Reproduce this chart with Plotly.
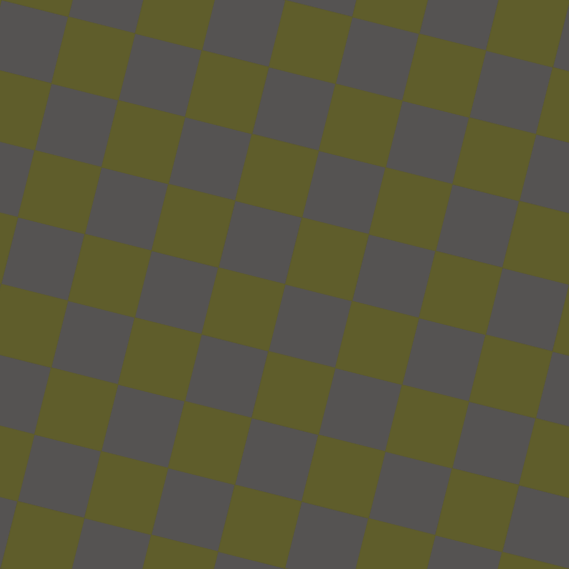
import math
import plotly.graph_objects as go

# Pattern parameters
cell_side = 68.9           # px
tilt_deg = 14.1            # rotation of the grid
origin = [68.3, 16.7]      # a lattice corner (top-left of an olive cell)
colors = ["#5f5d2b", "#555352"]   # olive, gray
canvas = 569

th = math.radians(tilt_deg)
ax_u = (cell_side * math.cos(th), cell_side * math.sin(th))
ax_v = (-cell_side * math.sin(th), cell_side * math.cos(th))

xs = {0: [], 1: []}
ys = {0: [], 1: []}
for i in range(-6, 14):
    for j in range(-6, 14):
        p0 = (origin[0] + i * ax_u[0] + j * ax_v[0], origin[1] + i * ax_u[1] + j * ax_v[1])
        pts = [p0,
               (p0[0] + ax_u[0], p0[1] + ax_u[1]),
               (p0[0] + ax_u[0] + ax_v[0], p0[1] + ax_u[1] + ax_v[1]),
               (p0[0] + ax_v[0], p0[1] + ax_v[1])]
        cx = sum(p[0] for p in pts) / 4
        cy = sum(p[1] for p in pts) / 4
        if cx < -80 or cx > canvas + 80 or cy < -80 or cy > canvas + 80:
            continue
        k = (i + j) % 2
        for p in pts + [p0]:
            xs[k].append(p[0])
            ys[k].append(p[1])
        xs[k].append(None)
        ys[k].append(None)

fig = go.Figure()
for k in (1, 0):
    fig.add_trace(go.Scatter(x=xs[k], y=ys[k], mode="lines", fill="toself",
                             fillcolor=colors[k], line=dict(color=colors[k], width=0.5),
                             hoverinfo="skip", showlegend=False))

fig.update_layout(width=canvas, height=canvas, margin=dict(l=0, r=0, t=0, b=0),
                  paper_bgcolor=colors[1], plot_bgcolor=colors[1],
                  xaxis=dict(range=[0, canvas], visible=False, fixedrange=True),
                  yaxis=dict(range=[canvas, 0], visible=False, fixedrange=True))
fig.write_html("out.html", config={"displayModeBar": False},
               post_script="document.body.style.margin='0';document.body.style.overflow='hidden';document.body.style.background='" + colors[1] + "';")
